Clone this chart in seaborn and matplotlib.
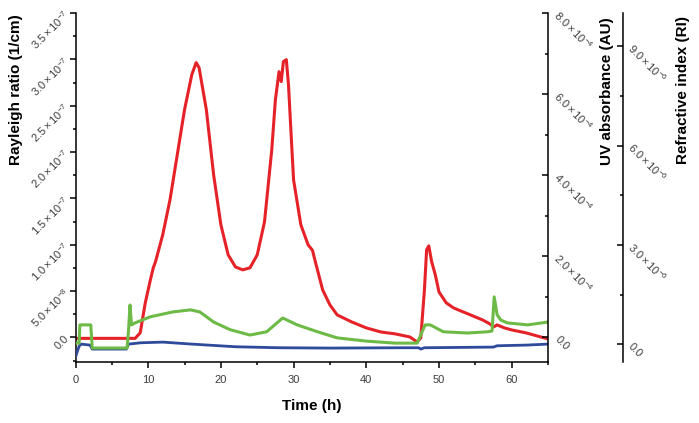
import matplotlib
matplotlib.use("Agg")
import numpy as np
import pandas as pd
import matplotlib.pyplot as plt
import seaborn as sns

sns.set_theme(style="white")
plt.rcParams["font.family"] = ["Liberation Sans", "DejaVu Sans"]
plt.rcParams["mathtext.fontset"] = "custom"
plt.rcParams["mathtext.rm"] = "Liberation Sans"
plt.rcParams["mathtext.it"] = "Liberation Sans:italic"
plt.rcParams["mathtext.bf"] = "Liberation Sans:bold"

# ---------------- data ----------------
# Rayleigh ratio (1/cm), red
red_t = [0, 0.3, 4, 8.2, 8.9, 9.6, 10.3, 10.7, 11, 12, 13, 14, 15, 16, 16.6, 17, 18, 19, 20,
         21, 22, 23, 24, 25, 26, 27, 27.5, 28, 28.3, 28.6, 29, 29.3, 29.7, 30, 31, 32, 32.6,
         33, 34, 35, 36, 38, 40, 42, 44, 46, 47, 47.5, 48, 48.3, 48.6, 49, 49.5, 50, 51, 52,
         53, 54, 55, 56, 57, 57.5, 58, 59, 60, 62, 64, 65]
red_v = [-0.1e-8, -0.1e-8, -0.1e-8, -0.1e-8, 0.49e-8, 3.73e-8, 6.21e-8, 7.51e-8, 8.15e-8,
         11.07e-8, 14.85e-8, 19.71e-8, 24.57e-8, 28.35e-8, 29.65e-8, 29.1e-8, 24.57e-8,
         17.55e-8, 12.15e-8, 8.91e-8, 7.61e-8, 7.29e-8, 7.51e-8, 8.91e-8, 12.47e-8, 20.25e-8,
         25.65e-8, 28.67e-8, 27.6e-8, 29.75e-8, 29.97e-8, 27.27e-8, 21.33e-8, 17.0e-8,
         12.15e-8, 9.99e-8, 9.4e-8, 8.15e-8, 5.13e-8, 3.51e-8, 2.43e-8, 1.67e-8, 1.03e-8,
         0.59e-8, 0.38e-8, 0.05e-8, -0.49e-8, -0.05e-8, 5.13e-8, 9.45e-8, 9.88e-8, 8.15e-8,
         6.75e-8, 4.91e-8, 3.73e-8, 3.19e-8, 2.86e-8, 2.54e-8, 2.21e-8, 1.89e-8, 1.46e-8,
         1.13e-8, 1.35e-8, 1.03e-8, 0.81e-8, 0.49e-8, 0.05e-8, -0.16e-8]

# UV absorbance (AU), green
green_t = [0, 0.5, 0.6, 2.1, 2.3, 7.1, 7.3, 7.5, 7.7, 8.2, 10.3, 13.4, 15.8, 17.1, 19, 21.3,
           24, 26.3, 28.5, 30.5, 33.3, 36, 40, 44, 47, 48.1, 48.8, 50.6, 53.9, 56.7, 57.3,
           57.6, 58, 58.5, 59.4, 62.2, 65]
green_v = [-0.14e-4, -0.14e-4, 0.31e-4, 0.31e-4, -0.26e-4, -0.26e-4, 0.19e-4, 0.80e-4,
           0.31e-4, 0.36e-4, 0.51e-4, 0.63e-4, 0.68e-4, 0.63e-4, 0.38e-4, 0.19e-4, 0.06e-4,
           0.14e-4, 0.48e-4, 0.31e-4, 0.14e-4, -0.01e-4, -0.09e-4, -0.14e-4, -0.14e-4,
           0.31e-4, 0.31e-4, 0.14e-4, 0.11e-4, 0.14e-4, 0.16e-4, 1.0e-4, 0.56e-4, 0.43e-4,
           0.36e-4, 0.31e-4, 0.38e-4]

# Refractive index (RI), blue
blue_t = [0, 0.5, 0.8, 2.0, 2.3, 7.0, 7.3, 9, 12, 16, 22, 28, 35, 45, 47.2, 47.5, 48, 57.5,
          58, 62, 65]
blue_v = [-0.38e-6, -0.05e-6, 0.01e-6, -0.02e-6, -0.14e-6, -0.14e-6, 0.01e-6, 0.05e-6,
          0.07e-6, 0.01e-6, -0.07e-6, -0.10e-6, -0.11e-6, -0.10e-6, -0.10e-6, -0.14e-6,
          -0.10e-6, -0.08e-6, -0.04e-6, -0.02e-6, 0.01e-6]

x_ticks = [0, 10, 20, 30, 40, 50, 60]
left_ticks = [0, 5e-8, 1e-7, 1.5e-7, 2e-7, 2.5e-7, 3e-7, 3.5e-7]
left_labels = ["0.0", r"$5.0\times10^{-8}$", r"$1.0\times10^{-7}$", r"$1.5\times10^{-7}$",
               r"$2.0\times10^{-7}$", r"$2.5\times10^{-7}$", r"$3.0\times10^{-7}$",
               r"$3.5\times10^{-7}$"]
uv_ticks = [0, 2e-4, 4e-4, 6e-4, 8e-4]
uv_labels = ["0.0", r"$2.0\times10^{-4}$", r"$4.0\times10^{-4}$", r"$6.0\times10^{-4}$",
             r"$8.0\times10^{-4}$"]
ri_ticks = [0, 3e-6, 6e-6, 9e-6]
ri_labels = ["0.0", r"$3.0\times10^{-6}$", r"$6.0\times10^{-6}$", r"$9.0\times10^{-6}$"]

RED, GREEN, BLUE = "#e62229", "#6dbb46", "#2e4a9a"
TXT = "#3c3c3c"

# ---------------- figure ----------------
W, H = 699, 423
fig = plt.figure(figsize=(W / 100, H / 100), dpi=100)
x0, x1, ytop, ybot = 75.5, 548, 13, 362
ax = fig.add_axes([x0 / W, 1 - ybot / H, (x1 - x0) / W, (ybot - ytop) / H])
ax2 = ax.twinx()
ax3 = ax.twinx()
ax.set_zorder(0)
ax3.set_zorder(1)
ax2.set_zorder(2)
ax.patch.set_visible(False)

sns.lineplot(x=red_t, y=red_v, ax=ax, color=RED, lw=2.2)
sns.lineplot(x=blue_t, y=blue_v, ax=ax3, color=BLUE, lw=2.0)
sns.lineplot(x=green_t, y=green_v, ax=ax2, color=GREEN, lw=2.2)

ax.set_xlim(0, 65)
ax.set_ylim(-2.65e-8, 3.5e-7)
ax2.set_ylim(-0.605e-4, 8.0e-4)
ax3.set_ylim(-0.53e-6, 1.0e-5)

for a in (ax, ax2, ax3):
    for s in a.spines.values():
        s.set_visible(False)
        s.set_color("black")
        s.set_linewidth(1.1)
ax.spines["left"].set_visible(True)
ax.spines["bottom"].set_visible(True)
ax2.spines["right"].set_visible(True)
ax3.spines["right"].set_visible(True)
ax3.spines["right"].set_position(("axes", (622.7 - x0) / (x1 - x0)))

# x axis
ax.set_xticks(x_ticks)
ax.set_xticks([5, 15, 25, 35, 45, 55, 65], minor=True)
ax.set_xticklabels([str(v) for v in x_ticks], fontsize=8, color=TXT)
ax.tick_params(axis="x", which="major", direction="out", length=4, width=1.1,
               color="black", pad=5, bottom=True)
ax.tick_params(axis="x", which="minor", direction="out", length=2.5, width=1.1,
               color="black", bottom=True)

# left axis
ax.set_yticks(left_ticks)
ax.set_yticks([-2.5e-8, 2.5e-8, 7.5e-8, 1.25e-7, 1.75e-7, 2.25e-7, 2.75e-7, 3.25e-7],
              minor=True)
ax.set_yticklabels(left_labels, fontsize=8, color=TXT, rotation=45,
                   rotation_mode="anchor", ha="right", va="center")
ax.tick_params(axis="y", which="major", direction="out", length=4, width=1.1,
               color="black", pad=2, left=True)
ax.tick_params(axis="y", which="minor", direction="out", length=2.5, width=1.1,
               color="black", left=True)

# UV axis
ax2.set_yticks(uv_ticks)
ax2.set_yticks([1e-4, 3e-4, 5e-4, 7e-4], minor=True)
ax2.set_yticklabels(uv_labels, fontsize=8, color=TXT, rotation=-45,
                    rotation_mode="anchor", ha="left", va="center")
ax2.tick_params(axis="y", which="major", direction="in", length=4, width=1.1,
                color="black", pad=6, right=True)
ax2.tick_params(axis="y", which="minor", direction="in", length=2.5, width=1.1,
                color="black", right=True)

# RI axis
ax3.set_yticks(ri_ticks)
ax3.set_yticks([1.5e-6, 4.5e-6, 7.5e-6], minor=True)
ax3.set_yticklabels(ri_labels, fontsize=8, color=TXT, rotation=-45,
                    rotation_mode="anchor", ha="left", va="center")
ax3.tick_params(axis="y", which="major", direction="in", length=4, width=1.1,
                color="black", pad=5, right=True)
ax3.tick_params(axis="y", which="minor", direction="in", length=2.5, width=1.1,
                color="black", right=True)

for a in (ax, ax2, ax3):
    a.set_xlabel("")
    a.set_ylabel("")
    a.grid(False)

fig.text(16 / W, 1 - 90 / H, "Rayleigh ratio (1/cm)", rotation=90, ha="center",
         va="center", fontsize=11, fontweight="bold", color="black")
fig.text(606.5 / W, 1 - 91 / H, "UV absorbance (AU)", rotation=90, ha="center",
         va="center", fontsize=11, fontweight="bold", color="black")
fig.text(682.5 / W, 1 - 90 / H, "Refractive index (RI)", rotation=90, ha="center",
         va="center", fontsize=11, fontweight="bold", color="black")
fig.text(311.5 / W, 1 - 406 / H, "Time (h)", ha="center", va="center", fontsize=11,
         fontweight="bold", color="black")

fig.savefig("out.png", dpi=100, facecolor="white")
